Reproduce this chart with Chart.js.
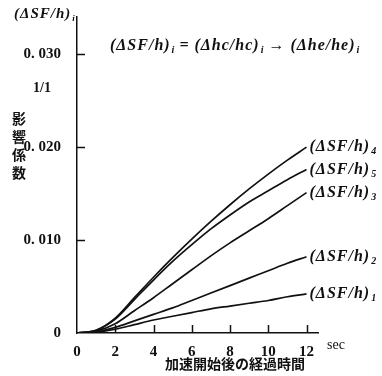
<!DOCTYPE html>
<html>
<head>
<meta charset="utf-8">
<script src="https://cdn.jsdelivr.net/npm/chart.js@4/dist/chart.umd.min.js"></script>
<style>
  html, body { margin: 0; padding: 0; background: #fff; }
  #wrap { width: 382px; height: 376px; position: relative; }
</style>
</head>
<body>
<div id="wrap"><canvas id="chart"></canvas></div>
<script>
// valores (t en s, coeficiente de influencia)
const times = [0, 1, 2, 3, 4, 5, 6, 7, 8, 9, 10, 11, 12];
const sf4 = [0, 0.0003, 0.0016, 0.0038, 0.0060, 0.0081, 0.0101, 0.0120, 0.0138, 0.0155, 0.0171, 0.0186, 0.0200];
const sf5 = [0, 0.0003, 0.0015, 0.0036, 0.0057, 0.0077, 0.0095, 0.0112, 0.0127, 0.0141, 0.0153, 0.0165, 0.0176];
const sf3 = [0, 0.0002, 0.0010, 0.0024, 0.0038, 0.0053, 0.0068, 0.0083, 0.0097, 0.0110, 0.0123, 0.0137, 0.0151];
const sf2 = [0, 0.0001, 0.0006, 0.0013, 0.0020, 0.0027, 0.0035, 0.0043, 0.0051, 0.0059, 0.0067, 0.0075, 0.0082];
const sf1 = [0, 0.0001, 0.0004, 0.0009, 0.0014, 0.0018, 0.0022, 0.0026, 0.0029, 0.0032, 0.0035, 0.0039, 0.0042];
const seriesSubs = ['4', '5', '3', '2', '1'];
const xTickLabels = ['0', '2', '4', '6', '8', '10', '12'];
const yTickLabels = ['0', '0. 010', '0. 020', '0. 030'];
const yAxisName = ['影', '響', '係', '数'];
const xAxisName = '加速開始後の経過時間';

const SERIF = '"Liberation Serif", "DejaVu Serif", serif';

function drawSub(ctx, x, y, main, sub, size) {
  ctx.font = 'italic bold ' + size + 'px ' + SERIF;
  ctx.textBaseline = 'middle';
  ctx.textAlign = 'left';
  ctx.letterSpacing = '1px';
  ctx.fillText(main, x, y);
  let w = ctx.measureText(main).width;
  ctx.letterSpacing = '0px';
  ctx.font = 'italic bold ' + Math.round(size * 0.6) + 'px ' + SERIF;
  ctx.fillText(sub, x + w + 1, y + size * 0.3);
  return w + 1 + ctx.measureText(sub).width;
}

const decor = {
  id: 'decor',
  afterDraw(chart) {
    const ctx = chart.ctx;
    const xs = chart.scales.x, ys = chart.scales.y;
    const area = chart.chartArea;
    ctx.save();
    ctx.fillStyle = '#111';
    ctx.strokeStyle = '#111';
    ctx.lineWidth = 1.5;

    // marcas hacia dentro
    ys.ticks.forEach(t => {
      if (t.value === 0) return;
      const py = Math.round(ys.getPixelForValue(t.value)) + 0.5;
      ctx.beginPath(); ctx.moveTo(area.left, py); ctx.lineTo(area.left + 8, py); ctx.stroke();
    });
    xs.ticks.forEach(t => {
      if (t.value === 0) return;
      const px = Math.round(xs.getPixelForValue(t.value)) + 0.5;
      ctx.beginPath(); ctx.moveTo(px, area.bottom); ctx.lineTo(px, area.bottom - 8); ctx.stroke();
    });

    // etiquetas al final de cada curva
    chart.data.datasets.forEach((ds, i) => {
      const last = ds.data[ds.data.length - 1];
      const py = ys.getPixelForValue(last);
      const px = xs.getPixelForValue(times[times.length - 1]);
      drawSub(ctx, px + 3, py, '(ΔSF/h)', seriesSubs[i], 16);
    });

    // título del eje y y fórmula
    drawSub(ctx, 14, 14, '(ΔSF/h)', 'i', 15);
    let x = 110;
    const parts = [['(ΔSF/h)', 'i'], [' = (Δhc/hc)', 'i'], [' → (Δhe/he)', 'i']];
    parts.forEach(p => { x += drawSub(ctx, x, 46, p[0], p[1], 16); });

    ctx.font = 'bold 14px ' + SERIF;
    ctx.textAlign = 'left';
    ctx.textBaseline = 'middle';
    ctx.fillText('1/1', 33, 88);

    ctx.font = 'bold 14px "Noto Sans CJK JP", sans-serif';
    ctx.textAlign = 'center';
    yAxisName.forEach((c, i) => ctx.fillText(c, 19, 119 + i * 18));

    ctx.font = '14px ' + SERIF;
    ctx.textAlign = 'left';
    ctx.fillText('sec', area.right + 9, 345);

    ctx.font = 'bold 14px "Noto Sans CJK JP", sans-serif';
    ctx.textAlign = 'center';
    ctx.fillText(xAxisName, 235, 364);
    ctx.restore();
  }
};

const colors = '#111';
new Chart(document.getElementById('chart'), {
  type: 'line',
  data: {
    labels: times,
    datasets: [sf4, sf5, sf3, sf2, sf1].map((d, i) => ({
      label: 'SF' + seriesSubs[i],
      data: d,
      borderColor: colors,
      borderWidth: 1.7,
      pointRadius: 0,
      cubicInterpolationMode: 'monotone',
      fill: false
    }))
  },
  options: {
    responsive: true,
    maintainAspectRatio: false,
    animation: false,
    layout: { padding: { left: 0, right: 64, top: 13, bottom: 0 } },
    plugins: { legend: { display: false }, tooltip: { enabled: false } },
    scales: {
      x: {
        type: 'linear',
        min: 0, max: 12.6,
        grid: { display: false },
        border: { display: true, color: '#111', width: 1.5 },
        afterFit: s => { s.height = 43; },
        ticks: {
          stepSize: 2,
          includeBounds: false,
          padding: 2,
          color: '#111',
          font: { family: SERIF, size: 15, weight: 'bold' },
          callback: (v, i) => xTickLabels[i]
        }
      },
      y: {
        min: 0, max: 0.034,
        grid: { display: false },
        border: { display: true, color: '#111', width: 1.5 },
        afterFit: s => { s.width = 77; },
        ticks: {
          stepSize: 0.01,
          includeBounds: false,
          padding: 8,
          color: '#111',
          font: { family: SERIF, size: 15, weight: 'bold' },
          callback: (v, i) => yTickLabels[i]
        }
      }
    }
  },
  plugins: [decor]
});
</script>
</body>
</html>
